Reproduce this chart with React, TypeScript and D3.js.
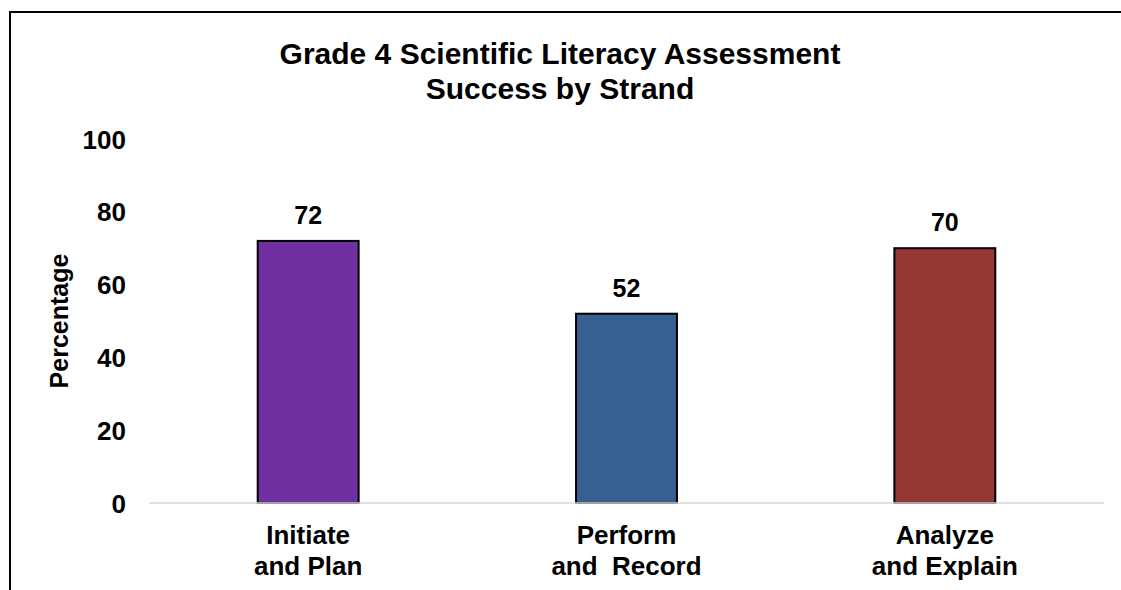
import * as d3 from 'd3';

const strands = ['Initiate\nand Plan', 'Perform\nand  Record', 'Analyze\nand Explain'];
const scores = [72, 52, 70];
const barColors = ['#7030A0', '#366092', '#953735'];
const yTicks = [0, 20, 40, 60, 80, 100];
const titleLines = ['Grade 4 Scientific Literacy Assessment', 'Success by Strand'];

const W = 1121;
const H = 590;
const FONT = 'Liberation Sans, Arial, sans-serif';

export default function App() {
  const x = d3.scaleBand<number>()
    .domain(d3.range(strands.length))
    .range([149, 1104])
    .paddingInner(0.683)
    .paddingOuter(0.683 / 2);
  const y = d3.scaleLinear().domain([0, 100]).range([503, 139]);

  return (
    <svg width={W} height={H} style={{ position: 'absolute', left: 0, top: 0, background: '#fff' }}
      fontFamily={FONT} fontWeight="bold">
      {/* outer frame, runs off the right and bottom */}
      <rect x={10} y={12} width={1200} height={700} fill="none" stroke="#000" strokeWidth={2} />

      {titleLines.map((t, i) => (
        <text key={i} x={560} y={64 + i * 35} textAnchor="middle" fontSize={30} fill="#000">{t}</text>
      ))}

      {yTicks.map(t => (
        <text key={t} x={126} y={y(t) + 9.5} textAnchor="end" fontSize={26} fill="#000">{t}</text>
      ))}

      <text transform={`translate(68,321) rotate(-90)`} textAnchor="middle" fontSize={25} fill="#000">
        Percentage
      </text>

      {scores.map((v, i) => (
        <g key={i}>
          <rect x={x(i)} y={y(v)} width={x.bandwidth()} height={y(0) - y(v)}
            fill={barColors[i]} stroke="#000" strokeWidth={2} />
          <text x={x(i)! + x.bandwidth() / 2} y={y(v) - 17} textAnchor="middle" fontSize={25} fill="#000">{v}</text>
        </g>
      ))}

      <line x1={149} x2={1104} y1={y(0)} y2={y(0)} stroke="#d9d9d9" strokeWidth={1.5} />

      {strands.map((s, i) => (
        <text key={i} textAnchor="middle" fontSize={26} fill="#000" style={{ whiteSpace: 'pre' }}>
          {s.split('\n').map((line, j) => (
            <tspan key={j} x={x(i)! + x.bandwidth() / 2} y={544 + j * 31}>{line}</tspan>
          ))}
        </text>
      ))}
    </svg>
  );
}
